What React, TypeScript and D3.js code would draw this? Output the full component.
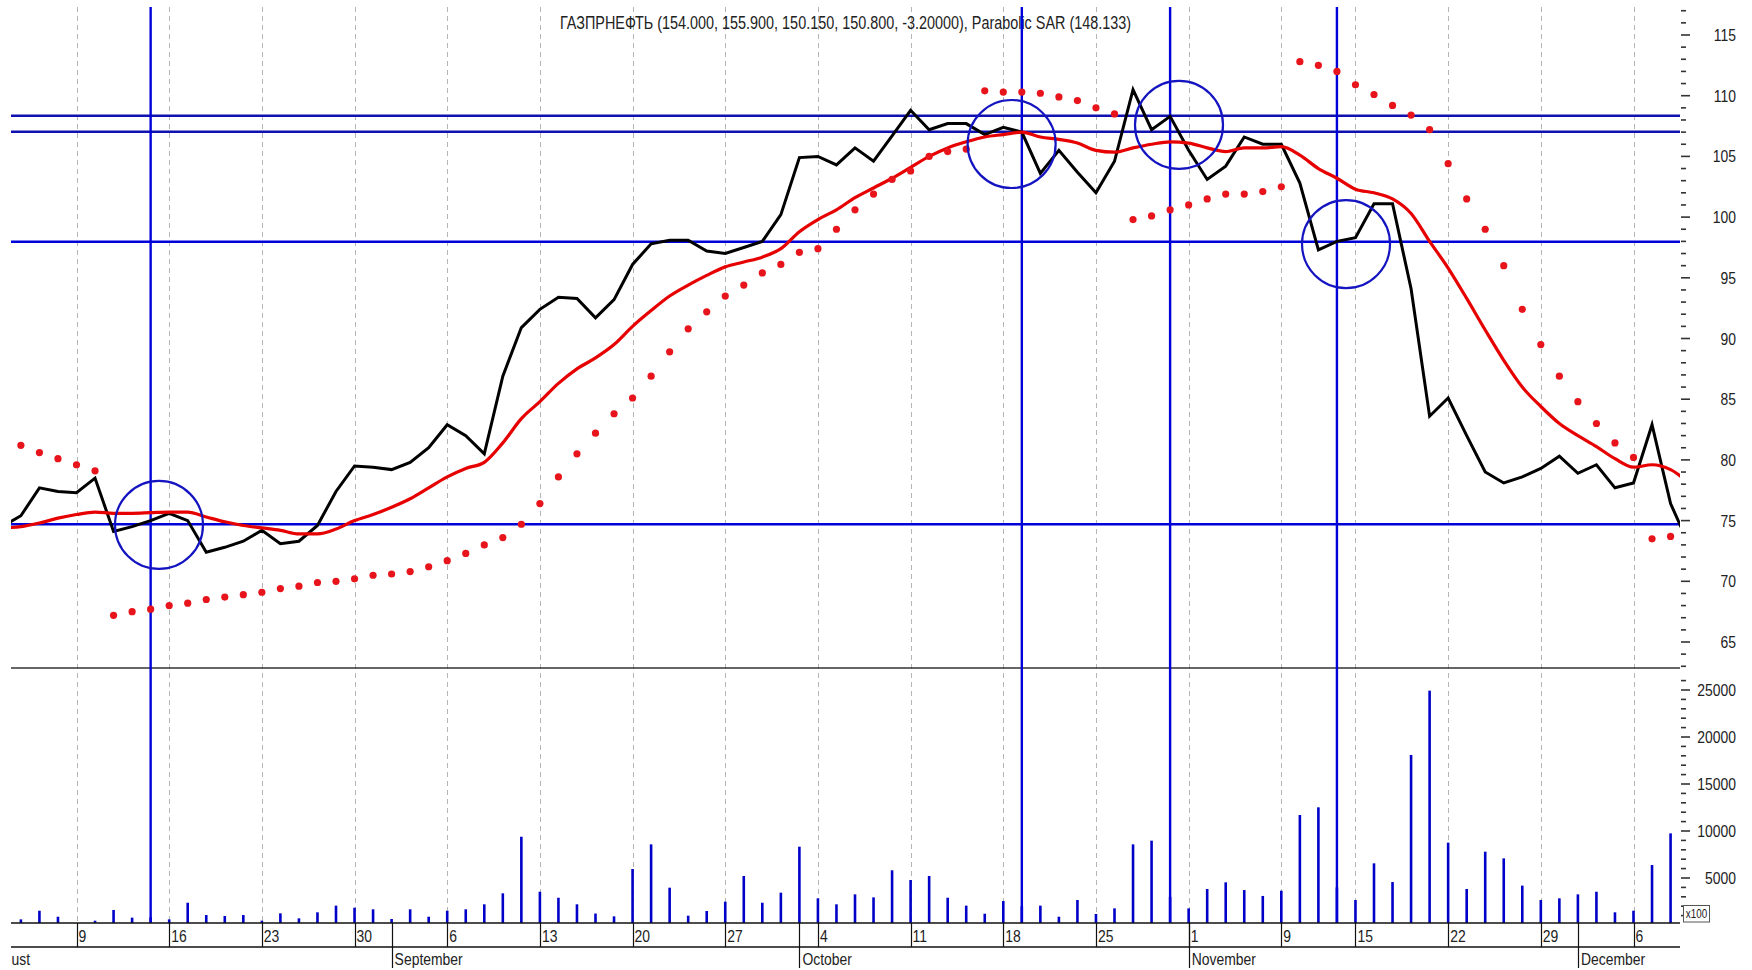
import React from 'react';
import * as d3 from 'd3';

// trading days shown on the chart (Nov 8 was a holiday)
const DATES = [
  '2004-08-03', '2004-08-04', '2004-08-05', '2004-08-06',
  '2004-08-09', '2004-08-10', '2004-08-11', '2004-08-12', '2004-08-13',
  '2004-08-16', '2004-08-17', '2004-08-18', '2004-08-19', '2004-08-20',
  '2004-08-23', '2004-08-24', '2004-08-25', '2004-08-26', '2004-08-27',
  '2004-08-30', '2004-08-31', '2004-09-01', '2004-09-02', '2004-09-03',
  '2004-09-06', '2004-09-07', '2004-09-08', '2004-09-09', '2004-09-10',
  '2004-09-13', '2004-09-14', '2004-09-15', '2004-09-16', '2004-09-17',
  '2004-09-20', '2004-09-21', '2004-09-22', '2004-09-23', '2004-09-24',
  '2004-09-27', '2004-09-28', '2004-09-29', '2004-09-30', '2004-10-01',
  '2004-10-04', '2004-10-05', '2004-10-06', '2004-10-07', '2004-10-08',
  '2004-10-11', '2004-10-12', '2004-10-13', '2004-10-14', '2004-10-15',
  '2004-10-18', '2004-10-19', '2004-10-20', '2004-10-21', '2004-10-22',
  '2004-10-25', '2004-10-26', '2004-10-27', '2004-10-28', '2004-10-29',
  '2004-11-01', '2004-11-02', '2004-11-03', '2004-11-04', '2004-11-05',
  '2004-11-09', '2004-11-10', '2004-11-11', '2004-11-12',
  '2004-11-15', '2004-11-16', '2004-11-17', '2004-11-18', '2004-11-19',
  '2004-11-22', '2004-11-23', '2004-11-24', '2004-11-25', '2004-11-26',
  '2004-11-29', '2004-11-30', '2004-12-01', '2004-12-02', '2004-12-03',
  '2004-12-06', '2004-12-07', '2004-12-08', '2004-12-09',
];

const CLOSE = [
  74.5, 75.4, 77.7, 77.4,
  77.3, 78.5, 74.1, 74.5, 75.0,
  75.6, 75.0, 72.4, 72.8, 73.3,
  74.2, 73.1, 73.3, 74.6, 77.4,
  79.5, 79.4, 79.2, 79.8, 81.0,
  82.9, 82.0, 80.5, 86.9, 90.9,
  92.4, 93.4, 93.3, 91.7, 93.2,
  96.1, 97.8, 98.1, 98.1, 97.2,
  97.0, 97.5, 98.0, 100.2, 104.9,
  105.0, 104.3, 105.7, 104.6, 106.7,
  108.8, 107.2, 107.7, 107.7, 106.8,
  107.4, 107.0, 103.6, 105.5, 103.7,
  102.0, 104.6, 110.5, 107.2, 108.3,
  105.5, 103.1, 104.2, 106.6, 106.0,
  106.0, 102.8, 97.3, 98.0,
  98.3, 101.1, 101.1, 94.1, 83.6,
  85.1, 82.0, 79.0, 78.1, 78.6,
  79.3, 80.3, 78.9, 79.6, 77.7,
  78.1, 82.9, 76.4, 73.0,
];

const MA = [
  74.4, 74.5, 74.8, 75.2,
  75.5, 75.7, 75.6, 75.6, 75.65,
  75.7, 75.7, 75.3, 74.9, 74.6,
  74.4, 74.2, 73.9, 73.9, 74.3,
  75.0, 75.5, 76.1, 76.8, 77.7,
  78.6, 79.3, 79.8, 81.4, 83.4,
  84.8, 86.3, 87.5, 88.4, 89.5,
  91.0, 92.3, 93.5, 94.4, 95.2,
  95.9, 96.3, 96.7, 97.4, 98.8,
  99.8, 100.6, 101.6, 102.4, 103.2,
  104.1, 105.0, 105.7, 106.2, 106.6,
  106.8, 107.0, 106.6, 106.4, 106.1,
  105.5, 105.35, 105.7, 106.0, 106.2,
  106.1, 105.7, 105.4, 105.7, 105.7,
  105.8, 105.1, 104.0, 103.2,
  102.3, 102.0, 101.5, 100.3, 98.0,
  95.8, 93.3, 90.7, 88.2, 86.0,
  84.4, 83.0, 82.0, 81.1, 80.1,
  79.4, 79.6, 79.2, 78.1,
];

const SAR = [
  81.6, 81.2, 80.6, 80.1,
  79.6, 79.1, 67.2, 67.5, 67.7,
  68.0, 68.2, 68.5, 68.7, 68.9,
  69.1, 69.4, 69.6, 69.9, 70.0,
  70.2, 70.5, 70.6, 70.8, 71.2,
  71.7, 72.3, 73.0, 73.6, 74.7,
  76.4, 78.6, 80.5, 82.2, 83.8,
  85.1, 86.9, 88.9, 90.8, 92.2,
  93.5, 94.4, 95.4, 96.1, 97.1,
  97.4, 99.0, 100.6, 101.9, 103.1,
  103.8, 105.0, 105.4, 105.6, 110.4,
  110.3, 110.3, 110.2, 109.9, 109.6,
  109.0, 108.5, 99.8, 100.1, 100.6,
  101.0, 101.5, 101.9, 101.9, 102.1,
  102.5, 112.8, 112.5, 112.0,
  110.9, 110.1, 109.2, 108.4, 107.2,
  104.4, 101.5, 99.0, 96.0, 92.4,
  89.5, 86.9, 84.8, 83.0, 81.4,
  80.2, 73.5, 73.7, 73.9,
];

const VOLUME = [
  800, 600, 1520, 880,
  200, 460, 1600, 780, 800,
  600, 2370, 1060, 960, 1060,
  460, 1240, 710, 1350, 2060,
  1840, 1670, 640, 1670, 880,
  1520, 1670, 2200, 3370, 9390,
  3540, 2900, 2200, 1220, 920,
  5960, 8580, 3970, 990, 1490,
  2480, 5210, 2370, 3440, 8330,
  2840, 2200, 3260, 2940, 5820,
  4790, 5210, 2900, 2060, 1200,
  2550, 2000, 2060, 880, 2660,
  1170, 1770, 8580, 8970, 3000,
  1770, 3830, 4540, 3720, 3090,
  3650, 11700, 12520, 4000,
  2660, 6560, 4570, 18090, 24930,
  8760, 3830, 7800, 7090, 4190,
  2660, 2840, 3260, 3540, 1350,
  1520, 6380, 9750, 0,
];

const MONTHS = [
  ['August', '2004-08-02'],
  ['September', '2004-09-01'],
  ['October', '2004-10-01'],
  ['November', '2004-11-01'],
  ['December', '2004-12-01'],
];

const H_LEVELS = [108.35, 107.03, 97.97, 74.7];
const V_MARKS = ['2004-08-13', '2004-10-19', '2004-10-29', '2004-11-12'];
// circled spots: [fractional trading-day index, price]
const CIRCLES = [[8.45, 74.64], [54.45, 106.02], [63.48, 107.59], [72.49, 97.78]];

const PRICE_TICKS = d3.range(63, 118);
const VOL_TICKS = d3.range(1000, 27000, 1000);

const TITLE = 'ГАЗПРНЕФТЬ (154.000, 155.900, 150.150, 150.800, -3.20000), Parabolic SAR (148.133)';

const FONT = '"Liberation Sans", Arial, sans-serif';

const L = 11;
const R = 1680;
const TOP = 7;
const SEP = 668;
const AXIS1 = 923;
const AXIS2 = 947;
const BOTTOM = 970;

const idxOf = (d: string) => {
  const i = DATES.indexOf(d);
  return i >= 0 ? i : -1;
};

// Arial Narrow look: regular sans squeezed horizontally
function Narrow({ x, y, anchor = 'start', size = 17, children }: any) {
  return (
    <g transform={`translate(${x},${y}) scale(0.82,1)`}>
      <text x={0} y={0} textAnchor={anchor} fontSize={size} fill="#222">{children}</text>
    </g>
  );
}

export default function App() {
  const x = d3.scaleLinear().domain([4, 88]).range([76.5, 1633.5]);
  const y = d3.scaleLinear().domain([65, 115]).range([642, 35]);
  const yv = d3.scaleLinear().domain([0, 25000]).range([925, 690]);

  const days = DATES.map(d => new Date(d + 'T00:00:00Z'));
  const weekStarts = DATES.map((d, i) => i).filter(i => i > 0 && days[i].getUTCDay() < days[i - 1].getUTCDay());

  const priceLine = d3.line<number>().x((d, i) => x(i)).y(d => y(d));
  const maLine = d3.line<number>().x((d, i) => x(i)).y(d => y(d)).curve(d3.curveMonotoneX);

  const blueLine = '#0000d8';

  return (
    <div style={{ position: 'absolute', left: 0, top: 0 }}>
      <svg width={1752} height={970} style={{ display: 'block', background: '#fff' }} fontFamily={FONT}>
        <defs>
          <clipPath id="plot">
            <rect x={L} y={TOP} width={R - L} height={AXIS1 - TOP} />
          </clipPath>
          <clipPath id="axis">
            <rect x={L} y={AXIS1} width={R - L} height={BOTTOM - AXIS1} />
          </clipPath>
        </defs>

        {/* dashed week grid */}
        <g stroke="#b4b4b4" strokeWidth={1} strokeDasharray="5,4">
          {weekStarts.map(i => (
            <line key={i} x1={Math.round(x(i)) + 0.5} x2={Math.round(x(i)) + 0.5} y1={TOP} y2={AXIS1} />
          ))}
        </g>

        {/* title */}
        <text x={(L + R) / 2} y={29} textAnchor="middle" fontSize={17.5} fill="#222"
          textLength={571} lengthAdjust="spacingAndGlyphs">{TITLE}</text>

        {/* horizontal levels */}
        {H_LEVELS.map((v, i) => (
          <line key={i} x1={L} x2={R} y1={y(v)} y2={y(v)} stroke={i < 2 ? '#1010b0' : blueLine}
            strokeWidth={i < 2 ? 2.6 : 2.4} />
        ))}

        {/* pane separator */}
        <line x1={L} x2={R} y1={SEP} y2={SEP} stroke="#333" strokeWidth={1.5} />

        {/* volume bars */}
        <g clipPath="url(#plot)" stroke="#0000c8" strokeWidth={2.6}>
          {VOLUME.map((v, i) => v > 0 && (
            <line key={i} x1={x(i)} x2={x(i)} y1={AXIS1} y2={Math.min(yv(v), AXIS1)} />
          ))}
        </g>

        {/* vertical marks */}
        {V_MARKS.map(d => (
          <line key={d} x1={x(idxOf(d))} x2={x(idxOf(d))} y1={TOP} y2={AXIS1} stroke={blueLine} strokeWidth={2.4} />
        ))}

        <g clipPath="url(#plot)">
          <path d={priceLine(CLOSE) || ''} fill="none" stroke="#000" strokeWidth={3} />
          <path d={maLine(MA) || ''} fill="none" stroke="#e60000" strokeWidth={3.2} />
          {SAR.map((v, i) => (
            <circle key={i} cx={x(i)} cy={y(v)} r={3.6} fill="#e8141c" />
          ))}
        </g>

        {/* circled spots */}
        {CIRCLES.map(([i, v], k) => (
          <circle key={k} cx={x(i)} cy={y(v)} r={44} fill="none" stroke="#1414c0" strokeWidth={2.2} />
        ))}

        {/* price axis */}
        <g stroke="#333" strokeWidth={1.6}>
          {PRICE_TICKS.map(t => (
            <line key={t} x1={R + 1} x2={t % 5 === 0 ? R + 10 : R + 6} y1={y(t)} y2={y(t)} />
          ))}
        </g>
        {PRICE_TICKS.filter(t => t % 5 === 0 && t >= 65 && t <= 115).map(t => (
          <Narrow key={t} x={1736} y={y(t) + 6} anchor="end">{t}</Narrow>
        ))}

        {/* volume axis */}
        <g stroke="#333" strokeWidth={1.6}>
          {VOL_TICKS.map(t => (
            <line key={t} x1={R + 1} x2={t % 5000 === 0 ? R + 10 : R + 6} y1={yv(t)} y2={yv(t)} />
          ))}
        </g>
        {VOL_TICKS.filter(t => t % 5000 === 0).map(t => (
          <Narrow key={t} x={1736} y={yv(t) + 6} anchor="end">{t}</Narrow>
        ))}
        <rect x={1683.5} y={905.5} width={26} height={16.5} fill="#fff" stroke="#555" strokeWidth={1} />
        <Narrow x={1696.5} y={918} anchor="middle" size={12}>x100</Narrow>

        {/* time axis */}
        <line x1={L} x2={R} y1={AXIS1} y2={AXIS1} stroke="#111" strokeWidth={1.3} />
        <line x1={L} x2={R} y1={AXIS2} y2={AXIS2} stroke="#111" strokeWidth={1.3} />
        <g clipPath="url(#axis)">
          {weekStarts.map(i => (
            <g key={i}>
              <line x1={Math.round(x(i)) + 0.5} x2={Math.round(x(i)) + 0.5} y1={AXIS1} y2={AXIS2} stroke="#111" strokeWidth={1.2} />
              <Narrow x={x(i) + 2} y={942}>{days[i].getUTCDate()}</Narrow>
            </g>
          ))}
          {MONTHS.map(([name, d]) => {
            const mx = x(idxOf(d));
            return (
              <g key={name}>
                <line x1={Math.round(mx) + 0.5} x2={Math.round(mx) + 0.5} y1={AXIS1} y2={BOTTOM - 2} stroke="#111" strokeWidth={1.2} />
                <Narrow x={mx + 3} y={965}>{name}</Narrow>
              </g>
            );
          })}
        </g>
      </svg>
    </div>
  );
}
